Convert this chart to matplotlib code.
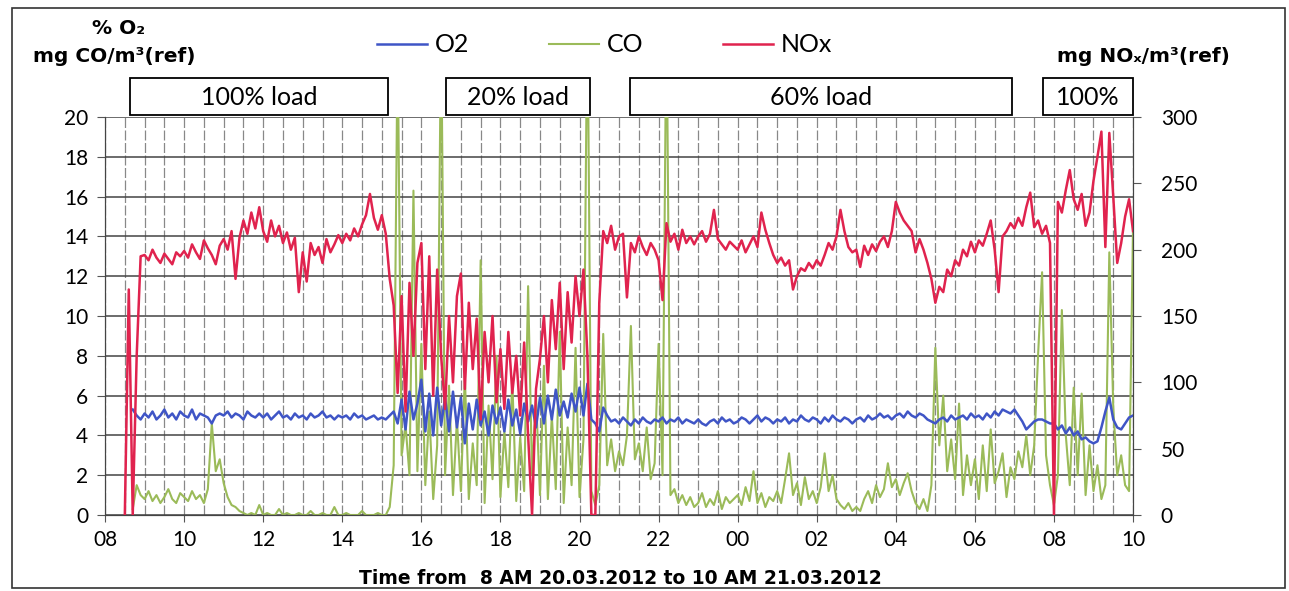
import numpy as np
import matplotlib
matplotlib.use("Agg")
from matplotlib import pyplot as plt
from matplotlib.patches import Rectangle

nan = np.nan

# hours after 08:00 on 20.03.2012, one value every 6 minutes (one row = one hour)
nox_rows = [
    [nan, nan, nan, nan, nan, 0, 170, 0, 120, 195],
    [196, 192, 200, 194, 190, 197, 193, 189, 198, 195],
    [199, 194, 204, 198, 193, 207, 201, 196, 189, 203],
    [208, 200, 214, 178, 209, 222, 212, 228, 216, 232],
    [214, 206, 222, 210, 218, 205, 213, 200, 209, 168],
    [198, 176, 205, 196, 202, 190, 208, 198, 204, 211],
    [205, 212, 207, 216, 210, 219, 226, 242, 224, 215],
    [226, 212, 178, 158, 92, 165, 78, 175, 120, 190],
    [205, 110, 195, 90, 185, 120, 80, 150, 100, 165],
    [182, 95, 160, 110, 148, 72, 138, 100, 150, 85],
    [125, 80, 138, 92, 120, 75, 130, 60, 0, 95],
    [118, 150, 100, 162, 125, 175, 110, 168, 130, 180],
    [150, 185, 120, 0, 0, 160, 214, 205, 218, 200],
    [210, 212, 164, 205, 198, 210, 202, 196, 205, 200],
    [192, 162, 220, 206, 212, 200, 215, 205, 210, 204],
    [210, 214, 206, 212, 230, 208, 204, 200, 206, 203],
    [200, 207, 198, 204, 210, 202, 228, 215, 205, 196],
    [190, 194, 188, 192, 170, 180, 186, 184, 190, 186],
    [192, 188, 196, 205, 200, 210, 230, 214, 202, 198],
    [200, 187, 203, 196, 204, 199, 206, 210, 202, 214],
    [236, 228, 222, 218, 214, 198, 208, 200, 190, 178],
    [160, 172, 168, 185, 180, 192, 188, 200, 195, 206],
    [198, 207, 203, 212, 222, 200, 168, 210, 214, 220],
    [216, 224, 218, 232, 243, 217, 222, 212, 218, 205],
    [0, 236, 228, 245, 260, 238, 230, 242, 218, 228],
    [252, 270, 289, 202, 288, 240, 190, 205, 225, 238],
]
nox_last = 214

o2_rows = [
    [nan, nan, nan, nan, nan, nan, nan, 5.3, 5.0, 4.8],
    [5.1, 4.9, 5.2, 4.8, 5.0, 5.3, 4.9, 5.1, 4.8, 5.2],
    [5.0, 4.9, 5.3, 4.8, 5.1, 5.0, 4.9, 4.6, 5.0, 5.1],
    [5.0, 5.2, 4.9, 5.1, 5.0, 4.8, 5.2, 5.0, 4.9, 5.1],
    [4.9, 5.1, 4.8, 5.0, 5.2, 4.9, 5.0, 4.8, 5.1, 4.9],
    [5.0, 4.8, 5.1, 4.9, 5.0, 5.2, 4.9, 5.0, 4.8, 5.0],
    [4.9, 5.0, 4.8, 5.1, 4.9, 5.0, 4.8, 4.9, 5.0, 4.8],
    [4.9, 4.8, 5.0, 5.2, 4.6, 5.8, 4.3, 6.2, 4.8, 5.6],
    [6.8, 4.2, 6.1, 4.0, 6.4, 4.5, 5.9, 4.2, 6.2, 4.4],
    [5.9, 3.6, 5.6, 4.3, 5.8, 4.5, 5.2, 4.0, 5.5, 4.6],
    [5.4, 4.2, 5.8, 4.5, 5.3, 4.1, 5.6, 4.7, 5.5, 4.4],
    [5.9, 4.6, 6.0, 4.8, 6.3, 5.0, 5.7, 4.9, 6.1, 5.2],
    [6.4, 5.0, 6.6, 4.8, 4.6, 4.2, 5.4, 5.0, 4.7, 4.8],
    [4.6, 4.9, 4.7, 4.5, 4.8, 4.6, 4.9, 4.7, 4.6, 4.8],
    [4.7, 4.9, 4.6, 4.8, 4.7, 4.9, 4.6, 4.8, 4.7, 4.6],
    [4.8, 4.6, 4.5, 4.7, 4.8, 4.6, 4.9, 4.7, 4.8, 4.6],
    [4.7, 4.9, 4.8, 4.6, 4.8, 5.0, 4.7, 4.9, 4.8, 4.6],
    [4.8, 4.7, 4.9, 4.6, 4.8, 4.7, 5.0, 4.8, 4.7, 4.9],
    [4.8, 4.6, 4.9, 4.7, 5.0, 4.8, 4.7, 4.9, 4.8, 4.6],
    [4.8, 4.9, 4.7, 5.0, 4.8, 4.9, 5.1, 4.9, 5.0, 4.8],
    [5.0, 5.1, 4.9, 5.2, 5.0, 4.9, 5.1, 5.0, 4.8, 4.7],
    [4.6, 4.8, 4.9, 4.7, 5.0, 4.8, 4.9, 5.0, 4.8, 5.1],
    [4.9, 5.0, 4.8, 5.1, 4.9, 5.2, 5.0, 5.3, 5.2, 5.1],
    [5.3, 5.0, 4.7, 4.3, 4.5, 4.7, 4.8, 4.8, 4.7, 4.6],
    [4.6, 4.3, 4.5, 4.1, 4.4, 4.0, 4.2, 3.8, 3.9, 3.7],
    [3.6, 3.7, 4.4, 5.2, 5.9, 4.8, 4.4, 4.3, 4.6, 4.9],
]
o2_last = 5.0

co_rows = [
    [nan, nan, nan, nan, nan, nan, nan, 0.3, 1.5, 1.0],
    [0.8, 1.2, 0.7, 1.0, 0.6, 0.9, 1.3, 0.8, 0.6, 1.1],
    [0.9, 0.7, 1.2, 0.8, 1.0, 0.6, 1.3, 4.6, 2.2, 2.8],
    [1.6, 0.9, 0.5, 0.4, 0.2, 0.1, 0.0, 0.1, 0.0, 0.5],
    [0.0, 0.1, 0.0, 0.0, 0.3, 0.0, 0.1, 0.0, 0.0, 0.1],
    [0.0, 0.0, 0.2, 0.0, 0.0, 0.1, 0.0, 0.0, 0.4, 0.0],
    [0.0, 0.1, 0.0, 0.0, 0.0, 0.2, 0.0, 0.0, 0.0, 0.1],
    [0.0, 0.0, 0.4, 2.5, 24, 3.0, 4.5, 2.0, 16.3, 2.2],
    [8.6, 1.5, 5.2, 0.8, 3.5, 25, 2.0, 6.5, 1.0, 4.8],
    [1.2, 7.0, 0.8, 3.6, 1.5, 12.8, 0.6, 5.5, 1.8, 8.0],
    [0.9, 4.2, 1.4, 6.8, 0.7, 3.9, 1.2, 11.5, 2.0, 6.0],
    [1.0, 7.5, 0.8, 5.0, 1.3, 9.2, 0.6, 4.4, 1.5, 8.4],
    [0.9, 3.8, 26, 1.2, 0.5, 1.5, 9.1, 2.5, 3.8, 2.2],
    [3.2, 2.5, 4.0, 9.5, 2.8, 3.6, 2.2, 4.4, 1.8, 2.6],
    [8.6, 2.0, 26, 1.0, 1.3, 0.6, 1.0, 0.5, 0.9, 0.4],
    [0.6, 1.1, 0.4, 0.8, 0.5, 1.2, 0.3, 0.9, 0.6, 0.8],
    [1.0, 0.5, 1.4, 0.7, 2.2, 0.6, 1.1, 0.4, 0.9, 0.7],
    [1.2, 0.6, 1.8, 3.1, 1.0, 1.6, 0.5, 1.9, 0.8, 1.2],
    [0.6, 1.4, 3.1, 1.2, 2.0, 0.8, 0.5, 0.3, 0.6, 0.2],
    [0.4, 0.2, 0.8, 1.2, 0.6, 1.5, 0.9, 1.3, 2.6, 1.4],
    [1.8, 1.0, 1.6, 2.1, 1.2, 0.6, 0.3, 0.8, 0.2, 1.5],
    [8.4, 3.5, 6.0, 2.2, 3.8, 1.8, 5.6, 1.0, 3.0, 1.5],
    [2.8, 0.8, 3.5, 1.2, 4.3, 1.6, 2.2, 3.1, 0.9, 2.4],
    [1.8, 3.2, 2.4, 4.0, 2.0, 3.5, 8.1, 12.2, 3.0, 1.5],
    [0.5, 2.0, 10.3, 4.0, 1.5, 6.4, 2.0, 6.1, 1.0, 3.5],
    [1.2, 2.5, 0.8, 1.5, 13.2, 5.4, 2.0, 3.0, 1.5, 1.2],
]
co_last = 14.5

hour_ticks = [0, 2, 4, 6, 8, 10, 12, 14, 16, 18, 20, 22, 24, 26]
hour_labels = ["08", "10", "12", "14", "16", "18", "20", "22",
               "00", "02", "04", "06", "08", "10"]

loads = ["100% load", "20% load", "60% load", "100%"]
load_start = [0.63, 8.62, 13.28, 23.72]
load_end = [7.16, 12.27, 22.94, 26.0]

nox = np.append(np.array(nox_rows, dtype=float).ravel(), nox_last)
o2 = np.append(np.array(o2_rows, dtype=float).ravel(), o2_last)
co = np.append(np.array(co_rows, dtype=float).ravel(), co_last)
t = np.arange(len(nox)) / 10.0

plt.rcParams['font.family'] = ['Lato', 'DejaVu Sans']

fig = plt.figure(figsize=(12.89, 5.91), dpi=100)
ax = fig.add_axes([0.0815, 0.1286, 0.7975, 0.6734])
ax2 = ax.twinx()

c_o2 = '#3f55c6'
c_co = '#9bbb59'
c_nox = '#e0234e'

l_o2, = ax.plot(t, o2, color=c_o2, lw=1.8, zorder=3)
l_co, = ax.plot(t, co, color=c_co, lw=1.5, zorder=2)
l_nox, = ax2.plot(t, nox, color=c_nox, lw=1.8, zorder=3)

ax.set_xlim(0, 26)
ax.set_ylim(0, 20)
ax2.set_ylim(0, 300)
ax.set_xticks(hour_ticks)
ax.set_xticklabels(hour_labels, fontsize=15)
ax.set_xticks(np.arange(0, 26.01, 0.5), minor=True)
ax.set_yticks(range(0, 21, 2))
ax2.set_yticks(range(0, 301, 50))
ax.tick_params(axis='y', labelsize=15, length=6, color='#555', pad=6)
ax2.tick_params(axis='y', labelsize=15, length=6, color='#555', pad=14)
ax.tick_params(axis='x', which='major', length=5, color='#555', pad=6)
ax.tick_params(axis='x', which='minor', length=0)

ax.grid(axis='x', which='both', color='#888', lw=0.9, ls=(0, (8, 2)))
ax.grid(axis='y', which='major', color='#444', lw=1.1)
ax.set_axisbelow(True)
for sp in ['left', 'bottom', 'right', 'top']:
    ax.spines[sp].set_color('#444')
    ax2.spines[sp].set_color('#444')
ax2.spines['top'].set_visible(False)
ax.spines['top'].set_visible(False)

# load boxes above the plot
for name, a, b in zip(loads, load_start, load_end):
    ax.add_patch(Rectangle((a, 1.005), b - a, 0.093, transform=ax.get_xaxis_transform(),
                           fill=False, ec='black', lw=1.3, clip_on=False))
    ax.text((a + b) / 2, 1.05, name, transform=ax.get_xaxis_transform(),
            ha='center', va='center', fontsize=18)

fig.legend([l_o2, l_co, l_nox], ["O2", "CO", "NOx"], loc='center',
           bbox_to_anchor=(0.469, 1 - 45 / 591), ncol=3, frameon=False,
           fontsize=18, handlelength=2.0, columnspacing=3.2, handletextpad=0.3)

bold = dict(ha='center', va='center', fontsize=14.5, fontweight='bold',
            family=['DejaVu Sans'])
fig.text(0.092, 1 - 28 / 591, "% O₂", **bold)
fig.text(0.089, 1 - 57 / 591, "mg CO/m³(ref)", **bold)
fig.text(0.887, 1 - 57 / 591, "mg NOₓ/m³(ref)", **bold)
fig.text(0.481, 1 - 578 / 591, "Time from  8 AM 20.03.2012 to 10 AM 21.03.2012",
         ha='center', va='center', fontsize=13.5, fontweight='bold',
         family=['DejaVu Sans'])

fig.patches.append(Rectangle((0.009, 0.005), 0.988, 0.982, transform=fig.transFigure,
                             fill=False, ec='#333', lw=1.2))

fig.savefig("out.png", dpi=100)
